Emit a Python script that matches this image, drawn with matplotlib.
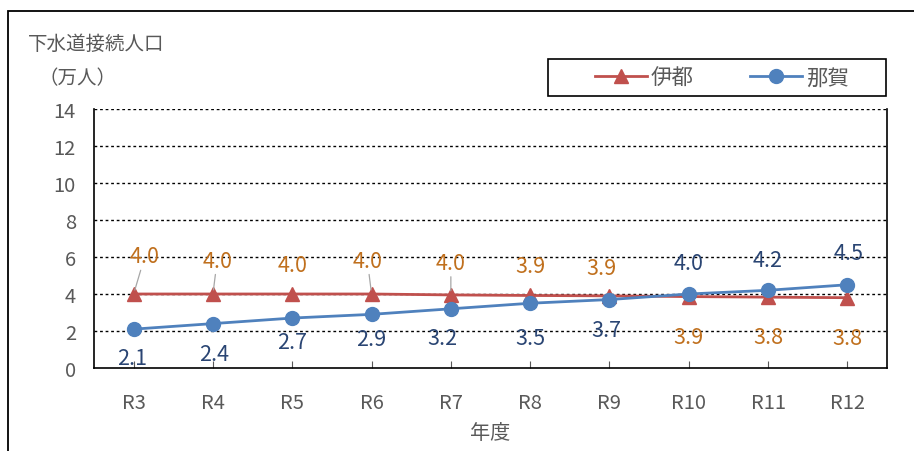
import matplotlib
matplotlib.use("Agg")
import matplotlib.pyplot as plt
from matplotlib.patches import Rectangle
from matplotlib.lines import Line2D

plt.rcParams['font.family'] = ['Noto Sans CJK JP', 'DejaVu Sans']

years = ["R3", "R4", "R5", "R6", "R7", "R8", "R9", "R10", "R11", "R12"]
ito = [4.0, 4.0, 4.0, 4.0, 3.95, 3.92, 3.9, 3.86, 3.83, 3.8]
ito_labels = ["4.0", "4.0", "4.0", "4.0", "4.0", "3.9", "3.9", "3.9", "3.8", "3.8"]
naka = [2.1, 2.4, 2.7, 2.9, 3.2, 3.5, 3.7, 4.0, 4.2, 4.5]
naka_labels = ["2.1", "2.4", "2.7", "2.9", "3.2", "3.5", "3.7", "4.0", "4.2", "4.5"]
yticks = [0, 2, 4, 6, 8, 10, 12, 14]

# label offsets (in points) relative to data point
ito_off = [(8, 27), (3, 24), (0, 21), (-3, 24), (0, 23), (0, 21), (-6, 20), (0, -29), (0, -29), (0, -29)]
naka_off = [(-1, -21), (1, -22), (0, -17), (0, -18), (-6, -21), (0, -25), (-2, -22), (0, 22), (0, 22), (1, 23)]
leader = [True, True, False, True, True, False, False, False, False, False]

W, H = 914, 452
fig = plt.figure(figsize=(W / 100, H / 100), dpi=100)

# outer frame
fig.patches.append(Rectangle((8 / W, -0.1), 1.2, (H - 12) / H + 0.1, transform=fig.transFigure,
                             fill=False, edgecolor="black", linewidth=1.3))

ax = fig.add_axes([94 / W, 1 - 369 / H, (887 - 94) / W, (369 - 110) / H])
x = list(range(len(years)))

RED = "#C0504D"
BLUE = "#4F81BD"
ax.plot(x, ito, color=RED, lw=2, marker="^", ms=10, zorder=3)
ax.plot(x, naka, color=BLUE, lw=2, marker="o", ms=10, zorder=4)

ax.set_xlim(-0.5, len(years) - 0.5)
ax.set_ylim(0, 14)
ax.set_yticks(yticks)
ax.set_xticks(x)
ax.set_xticklabels(years)
for y in yticks[1:]:
    ax.axhline(y, color="black", lw=1, ls=(0, (2, 2)), zorder=1)

ax.spines['top'].set_visible(False)
for s in ['left', 'right', 'bottom']:
    ax.spines[s].set_color("black")
    ax.spines[s].set_linewidth(1.2)
ax.tick_params(axis='x', direction='in', length=5, colors="#595959", labelsize=14.5, pad=17)
ax.tick_params(axis='y', length=0, colors="#595959", labelsize=14.5, pad=13)
for lab in ax.get_xticklabels() + ax.get_yticklabels():
    lab.set_color("#595959")

ORANGE = "#C0701E"
NAVY = "#2A4573"
for i in x:
    dx, dy = ito_off[i]
    if leader[i]:
        ax.annotate(ito_labels[i], (i, ito[i]), xytext=(dx, dy), textcoords="offset points",
                    ha="center", va="center", fontsize=15.5, color=ORANGE,
                    arrowprops=dict(arrowstyle="-", color="#A6A6A6", lw=0.9, shrinkA=0, shrinkB=3), zorder=5)
    else:
        ax.annotate(ito_labels[i], (i, ito[i]), xytext=(dx, dy), textcoords="offset points",
                    ha="center", va="center", fontsize=15.5, color=ORANGE, zorder=5)
    dx, dy = naka_off[i]
    ax.annotate(naka_labels[i], (i, naka[i]), xytext=(dx, dy), textcoords="offset points",
                ha="center", va="center", fontsize=15.5, color=NAVY, zorder=5)

ax.set_xlabel("年度", fontsize=14.5, color="#595959", labelpad=7)

fig.text(28 / W, 1 - 44 / H, "下水道接続人口", fontsize=14, color="#595959", va="center", ha="left")
fig.text(38 / W, 1 - 79 / H, "（万人）", fontsize=14, color="#595959", va="center", ha="left")

# legend box
fig.patches.append(Rectangle((548 / W, 1 - 97 / H), (886 - 548) / W, 37 / H, transform=fig.transFigure,
                             fill=True, facecolor="white", edgecolor="black", linewidth=1.2))
h1 = Line2D([], [], color=RED, lw=2, marker="^", ms=10)
h2 = Line2D([], [], color=BLUE, lw=2, marker="o", ms=10)
fig.legend([h1, h2], ["伊都", "那賀"], loc="center", bbox_to_anchor=(722 / W, 1 - 79 / H),
           ncol=2, frameon=False, fontsize=15.5, handlelength=2.4, columnspacing=2.6,
           handletextpad=0.2, labelcolor="#595959")

fig.savefig("out.png", dpi=100)
